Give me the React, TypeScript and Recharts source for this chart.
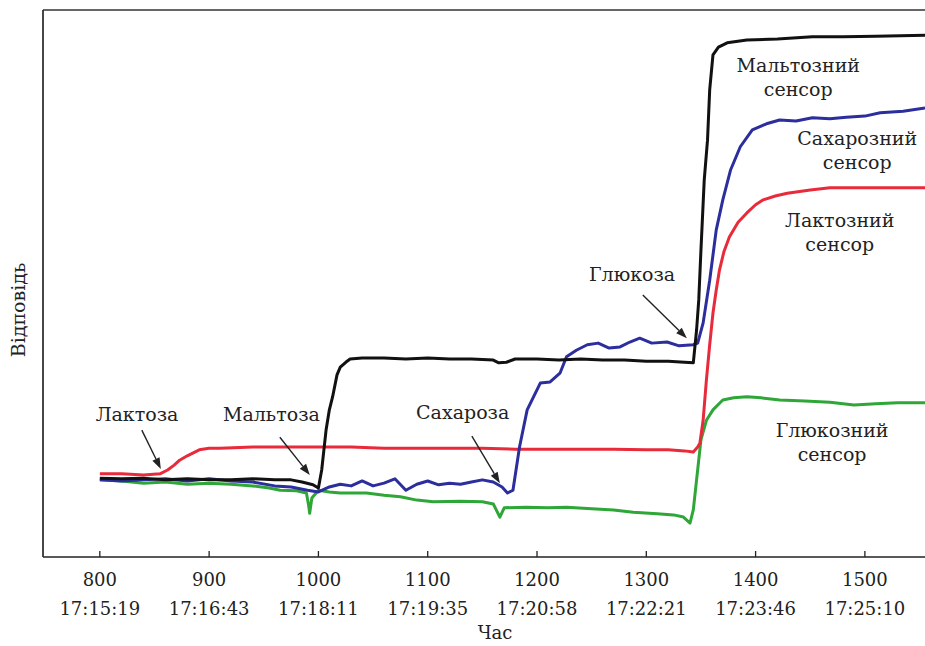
import React from 'react';
import { LineChart, Line, XAxis, YAxis, ReferenceLine, ReferenceDot } from 'recharts';

// x = sample number, v = response (arbitrary units, 0..100)
const maltoseX = [800,820,840,860,880,900,920,940,960,975,985,995,1000,1003,1007,1010,1013,1017,1020,1025,1029,1040,1060,1080,1100,1120,1140,1160,1165,1172,1180,1200,1220,1240,1260,1280,1300,1320,1335,1343,1346,1348,1350,1353,1356,1358,1361,1366,1374,1392,1420,1452,1480,1510,1555];
const maltoseV = [14.4,14.3,14.4,14.1,14.3,14.1,14.1,14.3,14.1,14.1,13.7,13.2,12.6,15.9,23.2,26.9,29.3,33.3,34.7,35.6,36.2,36.4,36.4,36.2,36.4,36.2,36.2,36.0,35.5,35.6,36.2,36.2,36.0,36.2,36.0,36.0,35.8,35.8,35.6,35.5,41.5,47.0,56.1,68.9,76.2,85.4,91.8,93.2,94.0,94.5,94.7,95.1,95.1,95.2,95.4];

const sucroseX = [800,820,840,860,880,900,920,940,960,975,990,1000,1010,1020,1030,1040,1050,1060,1070,1080,1090,1100,1110,1120,1130,1140,1150,1160,1168,1173,1178,1184,1191,1203,1212,1221,1227,1236,1246,1256,1266,1276,1285,1294,1305,1319,1330,1343,1347,1352,1358,1364,1370,1377,1386,1397,1410,1422,1437,1452,1468,1483,1500,1514,1535,1555];
const sucroseV = [14.1,13.9,14.1,14.3,13.9,14.3,13.9,13.7,13.0,12.8,12.2,11.9,12.8,13.3,13.0,13.9,13.0,13.5,14.3,12.2,13.3,13.9,13.2,13.5,13.3,13.7,14.1,13.7,12.8,11.7,12.2,20.1,26.9,31.8,32.0,33.6,36.6,37.8,38.8,39.1,38.2,38.4,39.3,40.0,39.1,39.3,38.6,38.8,39.1,42.8,50.6,59.8,65.3,70.7,75.0,78.1,79.2,79.9,79.7,80.3,80.1,80.4,80.6,81.2,81.5,82.1];

const lactoseX = [800,820,840,855,862,868,873,880,891,900,910,940,970,1000,1030,1060,1090,1120,1150,1180,1210,1240,1270,1300,1320,1335,1343,1347,1349,1352,1355,1358,1361,1364,1367,1371,1376,1384,1392,1400,1407,1418,1429,1450,1468,1500,1530,1555];
const lactoseV = [15.2,15.2,15.0,15.2,15.9,16.8,17.7,18.5,19.6,19.9,19.9,20.1,20.1,20.1,20.1,19.9,19.9,19.9,19.9,19.7,19.7,19.7,19.7,19.6,19.6,19.4,19.2,20.1,20.8,25.0,32.4,38.8,44.6,48.8,52.5,55.8,58.5,61.2,62.9,64.4,65.3,66.0,66.5,67.1,67.5,67.5,67.5,67.5];

const glucoseX = [800,820,840,860,880,900,920,940,955,965,980,989,991,992,994,1000,1010,1020,1044,1060,1075,1090,1105,1130,1150,1160,1166,1170,1190,1210,1227,1250,1270,1288,1310,1325,1334,1340,1343,1346,1350,1355,1361,1370,1380,1392,1405,1422,1445,1468,1490,1510,1530,1555];
const glucoseV = [14.1,13.9,13.5,13.7,13.3,13.5,13.3,13.0,12.6,12.2,12.1,11.7,9.5,8.0,10.8,12.2,11.9,11.7,11.7,11.3,11.0,10.4,10.1,10.2,10.1,9.7,7.3,9.0,9.1,9.0,9.1,8.8,8.6,8.2,7.9,7.7,7.3,6.2,8.6,14.1,21.4,25.0,26.9,28.7,29.1,29.3,29.1,28.7,28.5,28.3,27.8,28.0,28.2,28.2];

const tickValues = [800, 900, 1000, 1100, 1200, 1300, 1400, 1500];
const tickTimes = ['17:15:19', '17:16:43', '17:18:11', '17:19:35', '17:20:58', '17:22:21', '17:23:46', '17:25:10'];

// annotation labels: [x, v, lines]
const annotations: [number, number, string[]][] = [
  [834, 26.0, ['Лактоза']],
  [957, 26.0, ['Мальтоза']],
  [1132, 26.3, ['Сахароза']],
  [1287, 51.6, ['Глюкоза']],
  [1439, 87.6, ['Мальтозний', 'сенсор']],
  [1493, 74.2, ['Сахарозний', 'сенсор']],
  [1477, 59.2, ['Лактозний', 'сенсор']],
  [1470, 20.9, ['Глюкозний', 'сенсор']],
];

// arrows: [x1, v1, x2, v2] (tail -> head)
const arrows: [number, number, number, number][] = [
  [838.4, 23.2, 855.8, 16.1],
  [964.7, 21.9, 992.1, 15.0],
  [1140.4, 22.1, 1166.0, 13.5],
  [1296.8, 47.9, 1337.1, 40.0],
];

const zip = (xs: number[], vs: number[]) => xs.map((x, i) => ({ x, v: vs[i] }));
const maltose = zip(maltoseX, maltoseV);
const sucrose = zip(sucroseX, sucroseV);
const lactose = zip(lactoseX, lactoseV);
const glucose = zip(glucoseX, glucoseV);

const FONT = '"DejaVu Serif", "Liberation Serif", serif';

const XTick = (props: any) => {
  const { x, payload } = props;
  const i = tickValues.indexOf(payload.value);
  return (
    <g>
      <line x1={x} y1={557} x2={x} y2={551} stroke="#222" strokeWidth={1.3} />
      <text x={x} y={586} textAnchor="middle" fontFamily={FONT} fontSize={18} fill="#222">{payload.value}</text>
      <text x={x} y={615} textAnchor="middle" fontFamily={FONT} fontSize={18} fill="#222">{tickTimes[i]}</text>
    </g>
  );
};

const Arrow = (props: any) => {
  const { x1, y1, x2, y2 } = props;
  const dx = x2 - x1, dy = y2 - y1;
  const len = Math.sqrt(dx * dx + dy * dy);
  const ux = dx / len, uy = dy / len;
  const hl = 11, hw = 4;
  const bx = x2 - ux * hl, by = y2 - uy * hl;
  const p = `${x2},${y2} ${bx - uy * hw},${by + ux * hw} ${bx + uy * hw},${by - ux * hw}`;
  return (
    <g>
      <line x1={x1} y1={y1} x2={bx} y2={by} stroke="#222" strokeWidth={1.4} />
      <polygon points={p} fill="#222" />
    </g>
  );
};

const makeLabel = (lines: string[]) => (props: any) => {
  const { cx, cy } = props;
  const n = lines.length;
  return (
    <text x={cx} y={cy} textAnchor="middle" fontFamily={FONT} fontSize={19} fill="#222">
      {lines.map((l, i) => (
        <tspan key={i} x={cx} y={cy + 6 + (i - (n - 1) / 2) * 24}>{l}</tspan>
      ))}
    </text>
  );
};

export default function App() {
  return (
    <div style={{ position: 'absolute', left: 0, top: 0, background: '#fff' }}>
      <LineChart width={925} height={646} margin={{ top: 10, right: 0, bottom: 0, left: 0 }}>
        <XAxis
          dataKey="x"
          type="number"
          domain={[748, 1555]}
          ticks={tickValues}
          allowDataOverflow
          height={89}
          tickSize={0}
          tickLine={false}
          tick={<XTick />}
          axisLine={{ stroke: '#222', strokeWidth: 1.5 }}
          label={{
            content: () => (
              <text x={495} y={639} textAnchor="middle" fontFamily={FONT} fontSize={18} fill="#222">Час</text>
            ),
          }}
        />
        <YAxis
          type="number"
          domain={[0, 100]}
          allowDataOverflow
          width={43}
          tick={false}
          tickLine={false}
          axisLine={{ stroke: '#333', strokeWidth: 1.8 }}
          label={{
            content: () => (
              <text x={25} y={310} transform="rotate(-90 25 310)" textAnchor="middle" fontFamily={FONT} fontSize={19} fill="#222">Відповідь</text>
            ),
          }}
        />
        <ReferenceLine y={100} stroke="#666" strokeWidth={2} />
        <Line data={glucose} dataKey="v" type="linear" stroke="#2fa638" strokeWidth={3} dot={false} isAnimationActive={false} strokeLinejoin="round" />
        <Line data={lactose} dataKey="v" type="linear" stroke="#e82a3a" strokeWidth={3} dot={false} isAnimationActive={false} strokeLinejoin="round" />
        <Line data={sucrose} dataKey="v" type="linear" stroke="#2b2e9c" strokeWidth={3} dot={false} isAnimationActive={false} strokeLinejoin="round" />
        <Line data={maltose} dataKey="v" type="linear" stroke="#111111" strokeWidth={3} dot={false} isAnimationActive={false} strokeLinejoin="round" />
        {arrows.map((a, i) => (
          <ReferenceLine key={'a' + i} segment={[{ x: a[0], y: a[1] }, { x: a[2], y: a[3] }]} shape={<Arrow />} />
        ))}
        {annotations.map((a, i) => (
          <ReferenceDot key={'l' + i} x={a[0]} y={a[1]} r={0} shape={makeLabel(a[2])} />
        ))}
      </LineChart>
    </div>
  );
}
